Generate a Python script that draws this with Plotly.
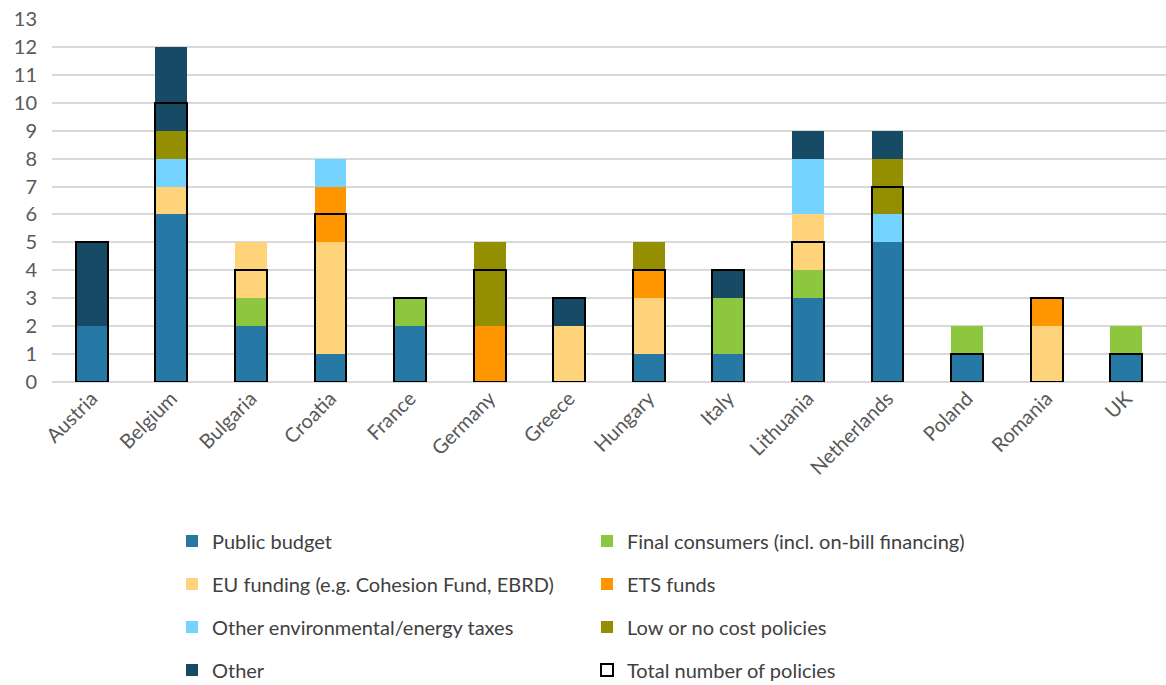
import plotly.graph_objects as go

countries = ["Austria", "Belgium", "Bulgaria", "Croatia", "France", "Germany", "Greece",
             "Hungary", "Italy", "Lithuania", "Netherlands", "Poland", "Romania", "UK"]

public_budget   = [2, 6, 2, 1, 2, 0, 0, 1, 1, 3, 5, 1, 0, 1]
final_consumers = [0, 0, 1, 0, 1, 0, 0, 0, 2, 1, 0, 1, 0, 1]
eu_funding      = [0, 1, 2, 4, 0, 0, 2, 2, 0, 2, 0, 0, 2, 0]
ets_funds       = [0, 0, 0, 2, 0, 2, 0, 1, 0, 0, 0, 0, 1, 0]
other_env_taxes = [0, 1, 0, 1, 0, 0, 0, 0, 0, 2, 1, 0, 0, 0]
low_cost        = [0, 1, 0, 0, 0, 3, 0, 1, 0, 0, 2, 0, 0, 0]
other           = [3, 3, 0, 0, 0, 0, 1, 0, 1, 1, 1, 0, 0, 0]
total_policies  = [5, 10, 4, 6, 3, 4, 3, 4, 4, 5, 7, 1, 3, 1]

series = [
    ("Public budget", public_budget, "#2678A5", "legend"),
    ("Final consumers (incl. on-bill financing)", final_consumers, "#8DC63F", "legend"),
    ("EU funding (e.g. Cohesion Fund, EBRD)", eu_funding, "#FFD37A", "legend2"),
    ("ETS funds", ets_funds, "#FF9500", "legend2"),
    ("Other environmental/energy taxes", other_env_taxes, "#75D4FF", "legend3"),
    ("Low or no cost policies", low_cost, "#948F00", "legend3"),
    ("Other", other, "#174A64", "legend4"),
]

fig = go.Figure()
for name, vals, color, lg in series:
    fig.add_trace(go.Bar(x=countries, y=vals, name=name, legend=lg,
                         marker=dict(color=color, line=dict(width=0))))

fig.add_trace(go.Bar(x=countries, y=total_policies, name="Total number of policies",
                     legend="legend4", xaxis="x2",
                     marker=dict(color="rgba(0,0,0,0)", line=dict(color="black", width=2))))

W, H = 1166, 685
L, R, T, B = 52, 0, 19, 303
pw, ph = W - L - R, H - T - B

def px_x(x):
    return (x - L) / pw

def px_y(y):
    return (H - B - y) / ph

font = dict(family="Lato, 'Open Sans', sans-serif", size=20, color="#404040")
legends = {}
rows = [541, 584, 627, 670]
for i, y in enumerate(rows):
    key = "legend" if i == 0 else f"legend{i+1}"
    legends[key] = dict(orientation="h", x=px_x(172), xanchor="left", y=px_y(y), yanchor="middle",
                        entrywidth=370, entrywidthmode="pixels", font=font,
                        bgcolor="rgba(0,0,0,0)", itemclick=False, traceorder="normal")

fig.update_layout(
    width=W, height=H,
    margin=dict(l=L, r=R, t=T, b=B, pad=0, autoexpand=False),
    barmode="stack", bargap=0.6,
    plot_bgcolor="white", paper_bgcolor="white",
    font=font,
    showlegend=True,
    xaxis=dict(type="category", tickangle=-45, showgrid=False, ticks="", showline=False,
               tickfont=dict(size=20, color="#595959"), range=[-0.5, 13.5]),
    xaxis2=dict(type="category", overlaying="x", matches="x", visible=False, range=[-0.5, 13.5]),
    yaxis=dict(range=[0, 13], dtick=1, showgrid=True, gridcolor="#D9D9D9", gridwidth=2,
               zeroline=True, zerolinecolor="#D9D9D9", zerolinewidth=2, ticks="",
               tickfont=dict(size=20, color="#595959"), ticklabelstandoff=14),
    **legends,
)

fig.write_html("out.html")
